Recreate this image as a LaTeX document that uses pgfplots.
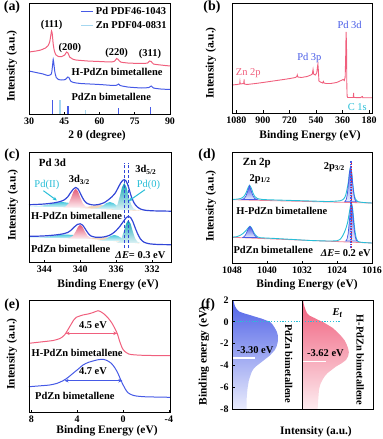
\documentclass[border=0pt]{standalone}
\usepackage{fontspec}
\setmainfont{Liberation Serif}
\usepackage{pgfplots}
\pgfplotsset{compat=1.18}
\usetikzlibrary{arrows.meta}
\definecolor{pk}{RGB}{240,95,125}
\definecolor{bl}{RGB}{70,90,230}
\definecolor{lb}{RGB}{165,215,240}
\definecolor{cy}{RGB}{40,190,215}
\definecolor{tl}{RGB}{20,165,180}
\definecolor{dbl}{RGB}{50,70,215}
\definecolor{beige}{RGB}{238,200,165}
\definecolor{zpk}{RGB}{240,130,150}
\newcommand{\fs}[1]{\fontsize{#1}{#1}\selectfont}
\pgfplotsset{
 panel/.style={scale only axis, anchor=north west, axis line style={line width=0.9pt},
  ytick=\empty, tick align=inside, major tick length=2.5bp, tick style={line width=0.7pt, black},
  xtick pos=left, ticklabel style={font=\bfseries\fs{10}},
  /pgf/number format/assume math mode=true, /pgf/number format/1000 sep={},
  clip=false, axis on top},
}
\begin{document}
\begin{tikzpicture}[font=\bfseries\fs{10.5}]
\useasboundingbox (0,0) rectangle (383bp,-439bp);

% ---------------- (a)
\begin{axis}[panel, at={(29bp,-3bp)}, width=141bp, height=111bp, xmin=30, xmax=90, ymin=0, ymax=111,
 xtick={30,45,60,75,90},
 legend style={at={(rel axis cs:0.995,0.985)}, anchor=north east, draw=none, fill=none,
   font=\bfseries\fs{10.5}, row sep=1bp, inner sep=0.5bp},
 legend cell align=left,
 legend image code/.code={\draw[#1] (0bp,0bp) -- (12bp,0bp);}]
\addlegendimage{bl, line width=1.5pt}
\addlegendentry{Pd PDF46-1043}
\addlegendimage{lb, line width=1.5pt}
\addlegendentry{Zn PDF04-0831}
\addplot[pk, line width=1pt, smooth, tension=0.4, forget plot] coordinates {
(30,62) (33,63) (35,64) (37,66) (38,68) (38.8,72) (39.3,79) (39.6,83) (39.9,80) (40.3,70) (40.8,63)
(41.5,59) (42.5,57.5) (44,57.5) (45.2,59) (46,62) (46.6,61) (47.3,57) (48.5,55) (50,54) (55,53)
(60,52.5) (65,52) (66.5,53) (67.3,55.5) (68,54.5) (69,52) (72,51) (78,50.5) (80.5,51) (81.3,53)
(82,52.5) (83,50) (86,49) (90,48)};
\addplot[bl, line width=1pt, smooth, tension=0.4, forget plot] coordinates {
(30,43) (33,41.5) (36,40) (38,38.5) (39.5,40) (40.0,48) (40.3,54.5) (40.6,50) (41,42) (41.6,36.5)
(42.5,34.5) (44,34) (45.5,34.5) (46.5,37) (47,36.5) (47.7,33) (49,31.5) (52,30.5) (60,29.5) (66,28.5)
(67.5,29) (68.1,30) (68.8,28.5) (72,27) (78,26) (81,26.5) (82,28) (83,26) (86,25) (90,24.5)};
\addplot[ycomb, bl, line width=1.2pt, forget plot] coordinates {(40.0,14) (46.6,8) (68.0,6) (81.8,7)};
\addplot[ycomb, lb, line width=1.2pt, forget plot] coordinates {(43.2,14) (54.2,4)};
\node at (axis cs:39.6,89) {(111)};
\node at (axis cs:47.4,66) {(200)};
\node at (axis cs:67.3,61) {(220)};
\node at (axis cs:81.5,60) {(311)};
\node at (axis cs:67.5,42.5) {H-PdZn bimetallene};
\node at (axis cs:65,17.5) {PdZn bimetallene};
\end{axis}

% ---------------- (b)
\begin{axis}[panel, at={(232bp,-3bp)}, width=140bp, height=110bp, xmin=160, xmax=1110, x dir=reverse,
 ymin=0, ymax=110, xtick={180,360,540,720,900,1080}]
\addplot[pk, line width=0.9pt] coordinates {
(1110,28) (1075,28.5) (1058,29) (1056,31.5) (1054,29) (1030,29.5) (1028,33.5) (1026,29) (1010,28.5)
(950,29.5) (900,30.5) (830,32) (760,33.5) (716,34.5) (680,35.5) (670,36.5) (667,38) (664,36) (640,35.5)
(600,36.5) (575,38) (565,39) (560,43.5) (556,39) (545,38) (535,40) (530,46) (527,49) (524,43) (520,32)
(510,31) (495,30) (490,31.5) (486,30) (470,29.5) (440,29.5) (400,30.5) (370,32.5) (355,33.5) (348,32.5)
(342,36) (338,60) (336,81) (333,70) (331,30) (329,17) (325,15.5) (300,15.5) (287,15.5) (285,20) (283,15.5)
(240,15.3) (225,16.5) (222,15.3) (160,15.3)};
\node[text=bl, font=\fs{10.5}] at (axis cs:312,88) {Pd 3d};
\node[text=bl, font=\fs{10.5}] at (axis cs:585,55) {Pd 3p};
\node[text=pk, font=\fs{10.5}] at (axis cs:1000,40) {Zn 2p};
\node[text=cy, font=\fs{10.5}] at (axis cs:260,6) {C 1s};
\end{axis}

% ---------------- (c)
\begin{axis}[panel, at={(29bp,-152bp)}, width=142bp, height=110bp, xmin=329.9, xmax=345.7, x dir=reverse,
 ymin=0, ymax=110, xtick={332,336,340,344}]
% upper components
\addplot[draw=none, fill=beige, fill opacity=0.75] coordinates {(340,54) (339,55.5) (338,57) (337,56.5) (336,55) (335,53.5) (334,52) (333,51)} -- cycle;
\addplot[draw=none, top color=cy!85, bottom color=cy!15] coordinates {(345.7,55.5) (344.5,56.0) (343.5,57.5) (342.8,59) (342.0,60) (341.2,59) (340.5,57.3) (339.8,55.5) (339.2,54.5)} -- cycle;
\addplot[draw=none, top color=cy!85, bottom color=cy!15] coordinates {(338.6,53.2) (338.0,54.0) (337.5,56.1) (337.1,58.8) (336.7,60) (336.3,58.8) (335.9,56.1) (335.4,54.0) (334.8,53.2)} -- cycle;
\addplot[draw=none, top color=pk!95!black, bottom color=pk!12] coordinates {(341.9,54.5) (341.6,55.5) (341.3,58.5) (341.0,64.6) (340.75,70.6) (340.5,73.3) (340.25,70.6) (340.0,64.6) (339.7,58.5) (339.4,55.5) (339.1,54.5)} -- cycle;
\addplot[draw=none, top color=tl, bottom color=tl!15] coordinates {(336.4,52.2) (336.1,53.7) (335.85,57.7) (335.6,65.5) (335.35,74.7) (335.1,79) (334.85,74.7) (334.6,65.5) (334.35,57.7) (334.1,53.7) (333.8,52.2)} -- cycle;
% lower components
\addplot[draw=none, fill=beige, fill opacity=0.75] coordinates {(339.3,23.5) (338.3,24.5) (337.3,25) (336.3,24) (335.3,22) (334.3,20) (333.3,18.5)} -- cycle;
\addplot[draw=none, top color=cy!85, bottom color=cy!15] coordinates {(345.7,24.5) (344.3,24.8) (343.3,25.8) (342.4,27) (341.6,27.5) (340.8,27) (340.1,25.8) (339.4,24.5) (338.8,23.5)} -- cycle;
\addplot[draw=none, top color=cy!85, bottom color=cy!15] coordinates {(338.0,21.2) (337.4,22) (337.0,23.8) (336.6,26) (336.2,27) (335.8,26) (335.4,23.8) (334.9,22) (334.4,21.2)} -- cycle;
\addplot[draw=none, top color=pk!95!black, bottom color=pk!12] coordinates {(341.4,23.4) (341.1,24.4) (340.8,26.3) (340.5,30.6) (340.25,35.2) (340.0,37.2) (339.75,35.2) (339.5,30.6) (339.2,26.3) (338.9,24.4) (338.6,23.4)} -- cycle;
\addplot[draw=none, top color=tl, bottom color=tl!15] coordinates {(335.95,19.2) (335.65,20.4) (335.4,23.8) (335.15,30.5) (334.9,38.3) (334.65,42) (334.4,38.3) (334.15,30.5) (333.9,23.8) (333.65,20.4) (333.35,19.2)} -- cycle;
% envelopes
\addplot[dbl, line width=1.2pt, smooth, tension=0.4] coordinates {
(345.7,57.3) (345,57.5) (344,58) (343,59) (342.3,60.3) (341.8,62) (341.4,65) (341.1,69) (340.8,72.5)
(340.5,74.5) (340.2,72.5) (339.9,67) (339.6,62) (339.3,59) (338.9,57.5) (338.4,57) (337.8,57.8)
(337.3,59.5) (336.9,62) (336.5,65) (336.1,69) (335.8,74) (335.5,79) (335.25,81.8) (335.1,82.3)
(334.9,81) (334.7,77) (334.5,71) (334.3,65) (334.0,59) (333.7,55.5) (333.3,53) (332.8,51.8) (332,51.2)
(331,51) (329.9,50.8)};
\addplot[dbl, line width=1.2pt, smooth, tension=0.4] coordinates {
(345.7,25.7) (344.8,25.8) (343.8,26.2) (342.8,27) (342.0,28) (341.4,29.5) (341.0,32) (340.6,35.5)
(340.3,37.6) (340.0,38.2) (339.7,36.5) (339.4,32.5) (339.1,28.5) (338.8,26) (338.3,24.8) (337.8,24.7)
(337.3,25.2) (336.8,26.5) (336.4,28.5) (336.0,31.5) (335.6,35.5) (335.2,40.5) (334.9,44.2) (334.65,45.7)
(334.4,44.5) (334.15,40.5) (333.9,34.5) (333.6,28) (333.3,23) (332.9,19.8) (332.3,18.2) (331.3,17.5)
(329.9,17.3)};
\addplot[dbl, line width=0.8pt, densely dashed] coordinates {(335.1,14) (335.1,99)};
\addplot[dbl, line width=0.8pt, densely dashed] coordinates {(334.6,14) (334.6,99)};
\addplot[cy, line width=1pt, -{Stealth[length=4bp,width=3.5bp]}] coordinates {(344.1,71.3) (342.6,61.5)};
\addplot[cy, line width=1pt, -{Stealth[length=4bp,width=3.5bp]}] coordinates {(332.8,72.3) (334.6,61)};
\node[anchor=west, font=\bfseries\fs{11}] at (axis cs:345.0,99) {Pd 3d};
\node at (axis cs:340.1,82) {3d\textsubscript{3/2}};
\node at (axis cs:332.7,92) {3d\textsubscript{5/2}};
\node[text=cy, font=\fs{10.5}] at (axis cs:343.7,77) {Pd(II)};
\node[text=cy, font=\fs{10.5}] at (axis cs:332.4,77) {Pd(0)};
\node[anchor=west, fill=white, inner sep=0.5bp] at (axis cs:345.55,46) {H-PdZn bimetallene};
\node[anchor=west, fill=white, inner sep=0.5bp] at (axis cs:345.55,13) {PdZn bimetallene};
\node at (axis cs:333.3,6.5) {\textit{ΔE}= 0.3 eV};
\end{axis}

% ---------------- (d)
\begin{axis}[panel, at={(232bp,-152bp)}, width=140bp, height=111bp, xmin=1016, xmax=1048, x dir=reverse,
 ymin=0, ymax=111, xtick={1016,1024,1032,1040,1048}]
\addplot[zpk, line width=0.8pt] coordinates {(1048,63.3) (1016,60)};
\addplot[zpk, line width=0.8pt] coordinates {(1048,25.7) (1016,20)};
\addplot[cy, line width=0.9pt, smooth, tension=0.4] coordinates {
(1048,63.5) (1047,63.8) (1046,64.5) (1045.3,66.5) (1044.8,70) (1044.4,74.5) (1044.0,77.7) (1043.6,75)
(1043.2,70) (1042.8,66.5) (1042.2,64.5) (1041,63.5) (1038,63) (1034,62.5) (1030,62) (1026,61.5) (1023.2,62.3)
(1022.4,64.5) (1022.0,68) (1021.7,74) (1021.4,81) (1021.15,90.5) (1020.9,96) (1020.65,90.5) (1020.4,79)
(1020.1,69) (1019.8,64) (1019.3,61.5) (1018,60.5) (1016,60)};
\addplot[cy, line width=0.9pt, smooth, tension=0.4] coordinates {
(1048,25.8) (1047,26.3) (1046.2,27.5) (1045.5,29.5) (1045,31.5) (1044.5,34) (1043.9,36.7) (1043.4,34)
(1042.9,29.5) (1042.3,26.5) (1041.5,25.3) (1038,24.5) (1034,23.5) (1030,22.5) (1026,22) (1024,22.3)
(1023.2,24) (1022.6,28) (1022.1,33) (1021.6,40) (1021.2,50) (1020.9,57.5) (1020.7,60) (1020.45,55)
(1020.2,44) (1019.9,32) (1019.6,25) (1019.2,21.5) (1018,20.5) (1016,20)};
\addplot[draw=bl, line width=0.7pt, top color=bl, bottom color=bl!10] coordinates {(1045.7,63.6) (1045.2,64.5) (1044.8,67) (1044.4,72) (1044.0,77.3) (1043.6,72) (1043.2,67) (1042.8,64.5) (1042.3,63.6)} -- cycle;
\addplot[draw=bl, line width=0.7pt, top color=bl, bottom color=bl!10] coordinates {(1022.2,61.4) (1021.9,63.2) (1021.65,68.4) (1021.4,78.5) (1021.15,90.4) (1020.9,96) (1020.65,90.4) (1020.4,78.5) (1020.15,68.4) (1019.9,63.2) (1019.6,61.4)} -- cycle;
\addplot[draw=bl, line width=0.7pt, top color=bl, bottom color=bl!10] coordinates {(1045.5,25.6) (1045.3,26.2) (1044.95,27.8) (1044.6,31) (1044.25,34.7) (1043.9,36.5) (1043.55,34.7) (1043.2,31) (1042.85,27.8) (1042.5,26.2) (1042.3,25.6)} -- cycle;
\addplot[draw=bl, line width=0.7pt, top color=bl, bottom color=bl!10] coordinates {(1022.0,22) (1021.7,23.9) (1021.45,29.5) (1021.2,40.5) (1020.95,53.4) (1020.7,59.5) (1020.45,53.4) (1020.2,40.5) (1019.95,29.5) (1019.7,23.9) (1019.4,22)} -- cycle;
\addplot[bl, line width=2.2pt, dash pattern=on 1.6pt off 1pt] coordinates {(1020.8,15) (1020.8,103)};
\addplot[red!80!pk, line width=0.5pt, dash pattern=on 1.5pt off 1.5pt] coordinates {(1020.8,15) (1020.8,100)};
\node[anchor=west, font=\bfseries\fs{11}] at (axis cs:1046.3,100) {Zn 2p};
\node at (axis cs:1041.6,84) {2p\textsubscript{1/2}};
\node at (axis cs:1024.6,96) {2p\textsubscript{3/2}};
\node[anchor=west] at (axis cs:1047.8,52) {H-PdZn bimetallene};
\node[anchor=west, fill=white, inner sep=0.5bp] at (axis cs:1047.8,13) {PdZn bimetallene};
\node at (axis cs:1022.0,9.5) {\textit{ΔE}= 0.2 eV};
\end{axis}

% ---------------- (e)
\begin{axis}[panel, at={(29bp,-300bp)}, width=141bp, height=112bp, xmin=-4.1, xmax=8.2, x dir=reverse,
 ymin=0, ymax=112, xtick={-4,0,4,8}]
\addplot[pk, line width=1pt, smooth, tension=0.4] coordinates {
(8.2,68.7) (7.2,70) (6.1,71.5) (5.5,73.5) (5.1,77) (4.65,85.3) (4.3,92) (4.07,94.7) (3.5,97) (3.05,98)
(2.6,99.5) (2.18,101.3) (1.9,100) (1.6,97.5) (1.3,94) (1.0,89.5) (0.73,84) (0.5,78.5) (0.29,70.7)
(0.07,64) (-0.14,60.7) (-0.5,58) (-0.87,57.3) (-1.5,56.8) (-2.5,56.5) (-4.1,56.3)};
\addplot[bl, line width=1pt, smooth, tension=0.4] coordinates {
(8.2,25.3) (7.2,26.2) (6.4,27) (5.8,28.5) (5.23,31.3) (4.8,34.5) (4.36,38.7) (3.9,43) (3.49,47)
(3.05,49.5) (2.62,51) (2.2,52.2) (1.75,52.7) (1.4,51.5) (1.02,48.7) (0.7,44) (0.44,38.7) (0.25,33.5)
(0.06,28.7) (-0.2,23) (-0.43,19.3) (-0.8,17) (-1.16,16) (-2,15.2) (-4.1,14.7)};
\addplot[pk, line width=1pt, {Stealth[length=4bp,width=3.5bp]}-{Stealth[length=4bp,width=3.5bp]}] coordinates {(5.0,78.7) (0.5,78.7)};
\addplot[bl, line width=1pt, {Stealth[length=4bp,width=3.5bp]}-{Stealth[length=4bp,width=3.5bp]}] coordinates {(5.1,31.3) (0.06,31.3)};
\node at (axis cs:2.62,87) {4.5 eV};
\node at (axis cs:2.62,41) {4.7 eV};
\node at (axis cs:4.0,59) {H-PdZn bimetallene};
\node at (axis cs:4.2,16) {PdZn bimetallene};
\end{axis}

% ---------------- (f)
\begin{axis}[panel, at={(232bp,-300bp)}, width=70bp, height=109bp, xmin=0, xmax=1, ymin=-8, ymax=2,
 xtick=\empty, ytick={-8,-6,-4,-2,0,2}, ytick pos=left]
\addplot[draw=none, top color=bl!95, bottom color=bl!12] coordinates {
(0,2) (0.02,2) (0.03,1.7) (0.045,1.4) (0.07,1.15) (0.1,0.95) (0.16,0.8) (0.24,0.65) (0.33,0.47)
(0.42,0.3) (0.49,0.13) (0.54,0) (0.58,-0.25) (0.61,-0.55) (0.64,-0.9) (0.655,-1.25) (0.66,-1.6)
(0.65,-1.95) (0.635,-2.3) (0.61,-2.6) (0.575,-2.85) (0.54,-3.1) (0.5,-3.3) (0.46,-3.5) (0.42,-3.7)
(0.38,-3.9) (0.34,-4.1) (0.31,-4.3) (0.285,-4.55) (0.27,-4.8) (0.255,-5.1) (0.24,-5.4) (0.23,-5.8)
(0.22,-6.2) (0.215,-6.6) (0.21,-7) (0.21,-8) (0,-8)} -- cycle;
\addplot[white, line width=1.5pt] coordinates {(0,-3.30) (0.33,-3.30)};
\addplot[cy, line width=1.3pt, dash pattern=on 1.2bp off 1.6bp] coordinates {(0,0) (1,0)};
\node at (axis cs:0.33,-2.57) {-3.30 eV};
\node[rotate=-90] at (axis cs:0.81,-3.85) {PdZn bimetallene};
\end{axis}
\begin{axis}[panel, at={(302bp,-300bp)}, width=71bp, height=109bp, xmin=0, xmax=1, ymin=-8, ymax=2,
 xtick=\empty, ytick=\empty]
\addplot[draw=none, top color=pk, bottom color=pk!12] coordinates {
(0,2) (0.015,2) (0.025,1.6) (0.034,1.4) (0.05,1.1) (0.07,0.8) (0.11,0.55) (0.17,0.37) (0.23,0.17)
(0.29,0) (0.36,-0.27) (0.43,-0.55) (0.49,-0.9) (0.55,-1.3) (0.6,-1.7) (0.63,-2.1) (0.65,-2.45)
(0.66,-2.8) (0.65,-3.15) (0.62,-3.5) (0.56,-3.8) (0.48,-4.1) (0.42,-4.4) (0.36,-4.7) (0.32,-5)
(0.29,-5.3) (0.26,-5.7) (0.24,-6.2) (0.23,-7) (0.22,-8) (0,-8)} -- cycle;
\addplot[white, line width=1.5pt] coordinates {(0,-3.62) (0.34,-3.62)};
\addplot[cy, line width=1.3pt, dash pattern=on 1.2bp off 1.6bp] coordinates {(0,0) (0.55,0)};
\node at (axis cs:0.33,-2.88) {-3.62 eV};
\node at (axis cs:0.5,0.8) {\textit{E}\textsubscript{f}};
\node[rotate=-90] at (axis cs:0.82,-3.5) {H-PdZn bimetallene};
\end{axis}

% ---------------- outside labels
\begin{scope}[font=\bfseries\fs{14}]
\node at (12bp,-7bp) {(a)};
\node at (212bp,-7bp) {(b)};
\node at (12bp,-155bp) {(c)};
\node at (207bp,-155bp) {(d)};
\node at (12bp,-305bp) {(e)};
\node at (208bp,-305bp) {(f)};
\end{scope}
\begin{scope}[font=\bfseries\fs{11.5}]
\node at (97bp,-136bp) {2 θ (degree)};
\node at (310bp,-136bp) {Binding Energy (eV)};
\node at (108bp,-285bp) {Binding Energy (eV)};
\node at (307bp,-285bp) {Binding Energy (eV)};
\node at (107bp,-431bp) {Binding Energy (eV)};
\node at (316bp,-432bp) {Intensity (a.u.)};
\node[rotate=90] at (12bp,-66bp) {Intensity (a.u.)};
\node[rotate=90] at (211bp,-63bp) {Intensity (a.u.)};
\node[rotate=90] at (13bp,-205bp) {Intensity (a.u.)};
\node[rotate=90] at (211bp,-206bp) {Intensity (a.u.)};
\node[rotate=90] at (12bp,-354bp) {Intensity (a.u.)};
\node[rotate=90] at (204bp,-356bp) {Binding energy (eV)};
\end{scope}
\end{tikzpicture}
\end{document}
